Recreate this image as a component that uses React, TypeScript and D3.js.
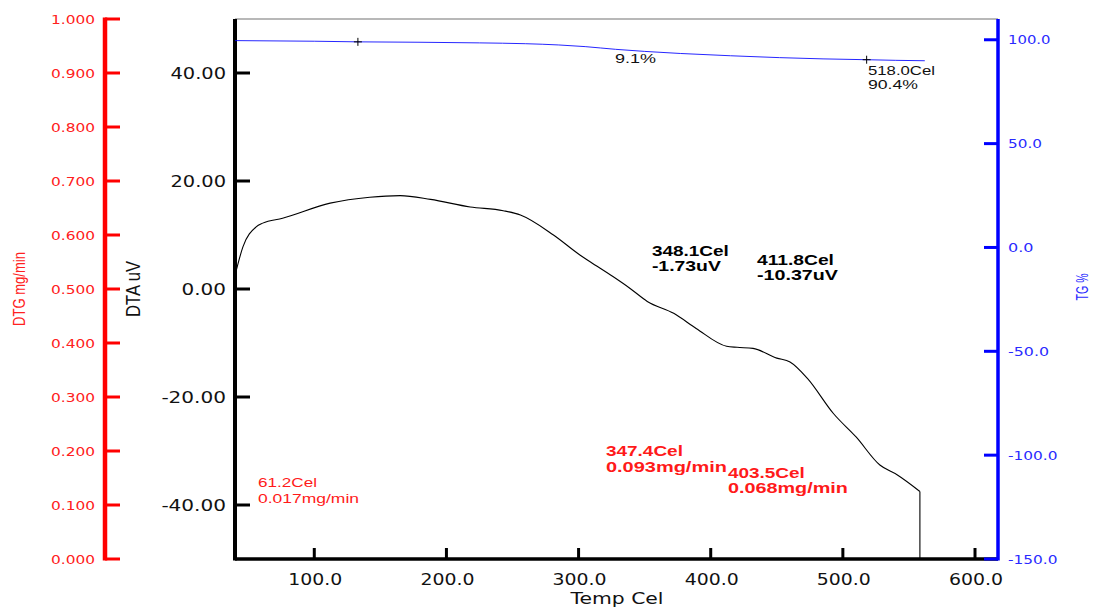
import React from 'react';
import * as d3 from 'd3';

const W = 1095;
const H = 607;

// Axis ticks
const xTicks = [100, 200, 300, 400, 500, 600];
const dtaTicks = [-40, -20, 0, 20, 40];
const dtgTicks = [0, 0.1, 0.2, 0.3, 0.4, 0.5, 0.6, 0.7, 0.8, 0.9, 1.0];
const tgTicks = [-150, -100, -50, 0, 50, 100];

// DTA curve (Temp Cel, uV)
const dtaTemp = [40, 46, 56, 61, 76, 112, 142, 165, 188, 218, 243, 256, 281, 301, 309, 326, 339, 352, 372, 389, 412, 420, 432, 450, 460, 473, 493, 510, 528, 541, 558.3];
const dtaValue = [2.5, 7.8, 11.5, 12.2, 13.1, 15.9, 17.0, 17.3, 16.6, 15.2, 14.5, 13.7, 10.0, 6.3, 5.0, 2.3, 0.1, -2.3, -4.5, -7.3, -10.6, -10.8, -11.0, -12.8, -13.5, -16.5, -23.1, -27.4, -32.6, -34.4, -37.5];

// TG curve (Temp Cel, %)
const tgTemp = [40, 100, 133, 180, 225, 260, 285, 305, 328, 350, 377, 415, 452, 485, 518, 540, 562];
const tgValue = [99.6, 99.3, 99.0, 98.8, 98.5, 98.1, 97.5, 96.7, 95.4, 94.4, 93.4, 92.3, 91.4, 90.8, 90.4, 90.1, 89.9];

// TG markers
const tgMarkTemp = [133, 518];
const tgMarkValue = [99.0, 90.4];

// Annotations
const dtaNotes = [
  { t: 355.5, v: 6.1, lines: ['348.1Cel', '-1.73uV'], w: [77, 69] },
  { t: 435, v: 4.4, lines: ['411.8Cel', '-10.37uV'], w: [77, 81] },
];
const dtgNotes = [
  { t: 320.7, v: 0.1907, lines: ['347.4Cel', '0.093mg/min'], w: [77, 121], bold: true },
  { t: 413, v: 0.1506, lines: ['403.5Cel', '0.068mg/min'], w: [77, 120], bold: true },
  { t: 57.4, v: 0.1333, lines: ['61.2Cel', '0.017mg/min'], w: [59, 101], bold: false },
];
const tgNotes = [
  { t: 327.6, v: 88.6, lines: ['9.1%'], w: [41] },
  { t: 519, v: 83.0, lines: ['518.0Cel', '90.4%'], w: [67, 50] },
];

const L = 235, R = 998, T = 19, B = 559;
const RED = '#ff0000';
const BLUE = '#0000ff';

export default function App() {
  const x = d3.scaleLinear().domain([40, 617.4]).range([L, R]);
  const yDTA = d3.scaleLinear().domain([-50, 50]).range([B, T]);
  const yDTG = d3.scaleLinear().domain([0, 1]).range([B, T]);
  const yTG = d3.scaleLinear().domain([-150, 110]).range([B, T]);

  const dtaPts: [number, number][] = dtaTemp.map((t, i) => [t, dtaValue[i]]);
  const tgPts: [number, number][] = tgTemp.map((t, i) => [t, tgValue[i]]);

  const dtaPath = d3.line<[number, number]>().x(d => x(d[0])).y(d => yDTA(d[1])).curve(d3.curveMonotoneX)(dtaPts) || '';
  const last = dtaPts[dtaPts.length - 1];
  const dropPath = d3.line<[number, number]>().x(d => x(d[0])).y(d => yDTA(d[1]))([last, [last[0], -50]]) || '';
  const tgPath = d3.line<[number, number]>().x(d => x(d[0])).y(d => yTG(d[1])).curve(d3.curveMonotoneX)(tgPts) || '';

  const tickFont = "'DejaVu Sans', Verdana, sans-serif";
  const noteFont = "'Liberation Sans', Arial, sans-serif";

  return (
    <svg width={W} height={H} style={{ position: 'absolute', left: 0, top: 0, background: '#fff' }}>
      <rect x={0} y={0} width={W} height={H} fill="#fff" />
      {/* top border */}
      <line x1={L} x2={R} y1={T} y2={T} stroke="#a0a0a0" strokeWidth={1.5} />

      {/* DTG red axis */}
      <line x1={105} x2={105} y1={yDTG(1) - 1.5} y2={yDTG(0) + 1.5} stroke={RED} strokeWidth={4.5} />
      {dtgTicks.map((v, i) => (
        <g key={'dtg' + i}>
          <line x1={105} x2={120} y1={yDTG(v)} y2={yDTG(v)} stroke={RED} strokeWidth={3} />
          <text x={95} y={yDTG(v)} dy="0.36em" textAnchor="end" fill="#ff2020" fontFamily={tickFont} fontSize={13} textLength={44} lengthAdjust="spacingAndGlyphs">{v.toFixed(3)}</text>
        </g>
      ))}
      <text transform={`translate(25,${yDTG(0.5)}) rotate(-90)`} textAnchor="middle" fill="#ff2020" fontFamily={noteFont} fontSize={16.5} textLength={74} lengthAdjust="spacingAndGlyphs">DTG mg/min</text>

      {/* DTA black axis */}
      <line x1={L} x2={L} y1={T} y2={B + 1.5} stroke="#000" strokeWidth={4} />
      {dtaTicks.map((v, i) => {
        const s = v.toFixed(2);
        return (
          <g key={'dta' + i}>
            <line x1={L} x2={250} y1={yDTA(v)} y2={yDTA(v)} stroke="#000" strokeWidth={3} />
            <text x={226} y={yDTA(v)} dy="0.36em" textAnchor="end" fill="#111" fontFamily={tickFont} fontSize={16} textLength={s.length * 11.1 - (s.startsWith('-') ? 2 : 0)} lengthAdjust="spacingAndGlyphs">{s}</text>
          </g>
        );
      })}
      <text transform={`translate(140,${yDTA(0)}) rotate(-90)`} textAnchor="middle" fill="#111" fontFamily={noteFont} fontSize={19.5} textLength={56} lengthAdjust="spacingAndGlyphs">DTA uV</text>

      {/* X axis */}
      <line x1={L} x2={R} y1={B} y2={B} stroke="#000" strokeWidth={3.5} />
      {xTicks.map((v, i) => (
        <g key={'x' + i}>
          <line x1={x(v)} x2={x(v)} y1={B} y2={B - 11} stroke="#000" strokeWidth={3} />
          <text x={x(v) + 1} y={585} textAnchor="middle" fill="#111" fontFamily={tickFont} fontSize={16} textLength={54} lengthAdjust="spacingAndGlyphs">{v.toFixed(1)}</text>
        </g>
      ))}
      <text x={617} y={604} textAnchor="middle" fill="#111" fontFamily={tickFont} fontSize={16} textLength={93} lengthAdjust="spacingAndGlyphs">Temp Cel</text>

      {/* TG blue axis */}
      <line x1={R} x2={R} y1={T} y2={B + 1.5} stroke={BLUE} strokeWidth={3.5} />
      {tgTicks.map((v, i) => {
        const s = v.toFixed(1);
        return (
          <g key={'tg' + i}>
            <line x1={984} x2={R} y1={yTG(v)} y2={yTG(v)} stroke={BLUE} strokeWidth={3} />
            <text x={1008} y={yTG(v)} dy="0.36em" textAnchor="start" fill="#2a2aff" fontFamily={tickFont} fontSize={13} textLength={s.length * 8.5 - (s.startsWith('-') ? 1.5 : 0)} lengthAdjust="spacingAndGlyphs">{s}</text>
          </g>
        );
      })}
      <text transform={`translate(1088,${yTG(-19)}) rotate(-90)`} textAnchor="middle" fill="#2a2aff" fontFamily={noteFont} fontSize={16.5} textLength={27} lengthAdjust="spacingAndGlyphs">TG %</text>

      {/* curves */}
      <path d={tgPath} fill="none" stroke={BLUE} strokeWidth={1} strokeOpacity={0.85} />
      <path d={dtaPath} fill="none" stroke="#000" strokeWidth={1.1} />
      <path d={dropPath} fill="none" stroke="#000" strokeWidth={1.1} />

      {/* TG markers */}
      {tgMarkTemp.map((t, i) => (
        <g key={'m' + i} stroke="#000" strokeWidth={1}>
          <line x1={x(t) - 4} x2={x(t) + 4} y1={yTG(tgMarkValue[i])} y2={yTG(tgMarkValue[i])} />
          <line x1={x(t)} x2={x(t)} y1={yTG(tgMarkValue[i]) - 4} y2={yTG(tgMarkValue[i]) + 4} />
        </g>
      ))}

      {/* annotations */}
      {dtaNotes.map((n, i) => (
        <g key={'dn' + i}>
          {n.lines.map((s, j) => (
            <text key={j} x={x(n.t)} y={yDTA(n.v) + j * 14.5} fill="#000" fontFamily={noteFont} fontWeight="bold" fontSize={14.5} textLength={n.w[j]} lengthAdjust="spacingAndGlyphs">{s}</text>
          ))}
        </g>
      ))}
      {dtgNotes.map((n, i) => (
        <g key={'gn' + i}>
          {n.lines.map((s, j) => (
            <text key={j} x={x(n.t)} y={yDTG(n.v) + j * 15.5} fill="#ff1a1a" fontFamily={noteFont} fontWeight={n.bold ? 'bold' : 'normal'} fontSize={n.bold ? 14.5 : 13.5} textLength={n.w[j]} lengthAdjust="spacingAndGlyphs">{s}</text>
          ))}
        </g>
      ))}
      {tgNotes.map((n, i) => (
        <g key={'tn' + i}>
          {n.lines.map((s, j) => (
            <text key={j} x={x(n.t)} y={yTG(n.v) + j * 13.5} fill="#111" fontFamily={noteFont} fontSize={13.5} textLength={n.w[j]} lengthAdjust="spacingAndGlyphs">{s}</text>
          ))}
        </g>
      ))}
    </svg>
  );
}
